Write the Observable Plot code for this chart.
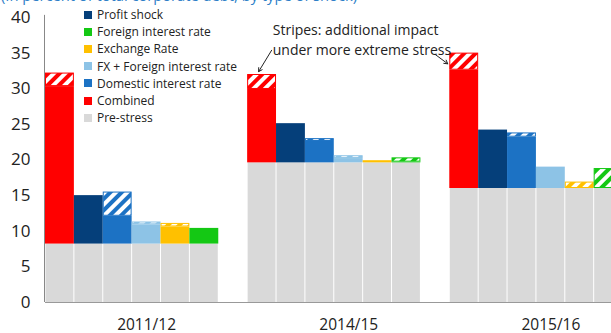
<!DOCTYPE html>
<html>
<head>
<meta charset="utf-8">
<script src="https://cdn.jsdelivr.net/npm/d3@7"></script>
<script src="https://cdn.jsdelivr.net/npm/@observablehq/plot@0.6"></script>
<style>
  html, body { margin: 0; padding: 0; background: #fff; }
  #wrap { position: relative; width: 611px; height: 333px; overflow: hidden; font-family: "Open Sans", sans-serif; }
  #subtitle { position: absolute; left: 1px; top: -12px; font-size: 14.7px; line-height: 15px; color: #2f7fc8; white-space: nowrap; }
  #legend { position: absolute; left: 84px; top: 6px; font-size: 12px; color: #222; }
  #legend .row { display: flex; align-items: center; height: 17.2px; white-space: nowrap; }
  #legend .sw { width: 8px; height: 8px; margin-right: 5px; }
</style>
</head>
<body>
<div id="wrap">
  <div id="chart"></div>
  <div id="subtitle"></div>
  <div id="legend"></div>
</div>
<script>
// Corporate debt at risk, in percent of total corporate debt, by type of shock
const subtitle = "(In percent of total corporate debt, by type of shock)";
const groups = ["2011/12", "2014/15", "2015/16"];
const shocks = ["Combined", "Profit shock", "Domestic interest rate", "FX + Foreign interest rate", "Exchange Rate", "Foreign interest rate"];
const shockColors = ["#ff0000", "#053f7a", "#1c72c4", "#8dc3e6", "#ffc000", "#14c814"];
const preStressColor = "#d9d9d9";

// Pre-stress level per period
const preStress = [8.2, 19.6, 16.0];

// Shock impact (level after shock) per period, and level under more extreme stress
const combined = [30.3, 29.9, 32.6];
const combinedExtreme = [32.2, 32.0, 35.0];
const profitShock = [15.0, 25.1, 24.2];
const profitShockExtreme = [15.0, 25.1, 24.2];
const domesticRate = [12.1, 22.6, 23.2];
const domesticRateExtreme = [15.5, 23.0, 23.8];
const fxForeignRate = [10.9, 20.2, 19.0];
const fxForeignRateExtreme = [11.3, 20.6, 19.0];
const exchangeRate = [10.6, 19.9, 16.0];
const exchangeRateExtreme = [11.1, 19.9, 16.9];
const foreignRate = [10.4, 19.7, 16.0];
const foreignRateExtreme = [10.5, 20.3, 18.8];

const legendLabels = ["Profit shock", "Foreign interest rate", "Exchange Rate", "FX + Foreign interest rate", "Domestic interest rate", "Combined", "Pre-stress"];
const yTicks = [0, 5, 10, 15, 20, 25, 30, 35, 40];
const annotation = "Stripes: additional impact\nunder more extreme stress";

const values = [combined, profitShock, domesticRate, fxForeignRate, exchangeRate, foreignRate];
const extremes = [combinedExtreme, profitShockExtreme, domesticRateExtreme, fxForeignRateExtreme, exchangeRateExtreme, foreignRateExtreme];

// One slot per bar; each period takes the six bars plus one empty slot
const slotsPerGroup = shocks.length + 1;
const bars = [];
groups.forEach((g, gi) => shocks.forEach((s, si) => bars.push({
  group: g, shock: s, si,
  pos: gi * slotsPerGroup + si,
  base: preStress[gi],
  value: values[si][gi],
  extreme: extremes[si][gi]
})));

// Hatch patterns: white diagonal stripes over each shock colour
const defs = () => {
  const d = d3.create("svg:defs");
  shockColors.forEach((c, i) => {
    const p = d.append("pattern")
      .attr("id", "hatch-" + i)
      .attr("width", 8).attr("height", 8)
      .attr("patternUnits", "userSpaceOnUse")
      .attr("patternTransform", "rotate(45)");
    p.append("rect").attr("width", 8).attr("height", 8).attr("fill", c);
    p.append("rect").attr("width", 4).attr("height", 8).attr("fill", "white");
  });
  return d.node();
};

const stripeMarks = shocks.map((s, i) => Plot.rect(
  bars.filter(d => d.si === i && d.extreme > d.value),
  {x1: "pos", x2: d => d.pos + 1, y1: "value", y2: "extreme",
   fill: `url(#hatch-${i})`, stroke: shockColors[i], strokeWidth: 1, inset: 0.5}
));

// Annotation arrows point at the hatched top of the Combined bars
const arrows = [
  {x1: 7.83, y1: 35.4, x2: 1 * slotsPerGroup + 0.38, y2: combinedExtreme[1] + 0.4},
  {x1: 13.5, y1: 34.8, x2: 2 * slotsPerGroup - 0.07, y2: combinedExtreme[2] - 1.5}
];

const chart = Plot.plot({
  width: 611,
  height: 333,
  marginLeft: 45,
  marginRight: 0,
  marginTop: 17,
  marginBottom: 31,
  style: {fontFamily: "Open Sans, sans-serif", color: "#222", background: "transparent"},
  x: {type: "linear", domain: [0, 19.6]},
  y: {domain: [0, 40]},
  color: {domain: shocks, range: shockColors},
  marks: [
    defs,
    Plot.rect(bars, {x1: "pos", x2: d => d.pos + 1, y1: 0, y2: "base", fill: preStressColor, insetLeft: 0.5, insetRight: 0.5}),
    Plot.rect(bars.filter(d => d.value > d.base), {x1: "pos", x2: d => d.pos + 1, y1: "base", y2: "value", fill: "shock"}),
    ...stripeMarks,
    Plot.ruleY([0], {stroke: "#999"}),
    Plot.ruleX([0], {y1: 0, y2: 40.3, stroke: "#888", dx: -1}),
    Plot.axisY(yTicks, {tickSize: 0, tickPadding: 15, fontSize: 17, label: null}),
    Plot.axisX(groups.map((g, i) => i * slotsPerGroup + 3.5), {
      tickSize: 0, tickPadding: 16, fontSize: 15.5, label: null,
      tickFormat: d => groups[Math.round((d - 3.5) / slotsPerGroup)]
    }),
    Plot.text([annotation], {x: 7.87, y: 37.05, text: d => d, textAnchor: "start", lineAnchor: "middle", lineHeight: 1.43, fontSize: 14, fill: "#222"}),
    Plot.arrow(arrows, {x1: "x1", y1: "y1", x2: "x2", y2: "y2", stroke: "#222", strokeWidth: 1, headLength: 6, bend: 0})
  ]
});
document.getElementById("chart").appendChild(chart);

document.getElementById("subtitle").textContent = subtitle;

// Legend: Profit shock … Pre-stress, drawn over the top of the first period
const legendColors = legendLabels.map(l => l === "Pre-stress" ? preStressColor : shockColors[shocks.indexOf(l)]);
const legend = d3.select("#legend");
legendLabels.forEach((l, i) => {
  const row = legend.append("div").attr("class", "row");
  row.append("div").attr("class", "sw").style("background", legendColors[i]);
  row.append("span").text(l);
});
</script>
</body>
</html>
